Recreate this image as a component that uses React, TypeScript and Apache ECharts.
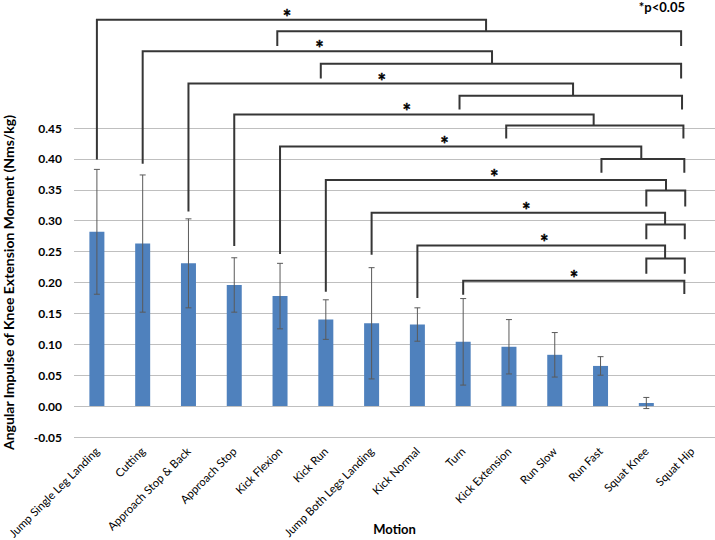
import React, { useEffect, useRef } from "react";
import * as echarts from "echarts";

const categories = [
  "Jump Single Leg Landing",
  "Cutting",
  "Approach Stop & Back",
  "Approach Stop",
  "Kick Flexion",
  "Kick Run",
  "Jump Both Legs Landing",
  "Kick Normal",
  "Turn",
  "Kick Extension",
  "Run Slow",
  "Run Fast",
  "Squat Knee",
  "Squat Hip",
];
const means = [0.282, 0.263, 0.231, 0.196, 0.178, 0.14, 0.134, 0.132, 0.104, 0.096, 0.083, 0.065, 0.005, 0];
const sds = [0.101, 0.111, 0.072, 0.044, 0.053, 0.032, 0.09, 0.027, 0.07, 0.044, 0.036, 0.015, 0.009, 0];

// significance brackets (in category-index / value units)
const bracketFrom = [0, 1, 2, 3, 4, 5, 6, 7, 8];
const bracketLegBottom = [0.399, 0.392, 0.315, 0.259, 0.246, 0.185, 0.245, 0.175, 0.18];
const bracketTop = [0.625, 0.574, 0.522, 0.472, 0.42, 0.366, 0.313, 0.26, 0.203];
const bracketTip = [8.5, 8.63, 10.4, 10.85, 11.89, 12.43, 12.41, 12.41, 12.83];
const groupStart: (number | null)[] = [3.94, 4.89, 7.92, 8.94, 11.02, 12.0, 12.0, 12.0, null];
const groupEnd = [12.76, 12.76, 12.78, 12.81, 12.83, 12.85, 12.84, 12.84, 12.83];
const groupLevel: (number | null)[] = [0.6065, 0.554, 0.502, 0.454, 0.4, 0.349, 0.294, 0.239, null];
const groupLegBottom = [0.5825, 0.53, 0.48, 0.433, 0.3775, 0.323, 0.27, 0.214, 0.1815];
const starX = [4.15, 4.86, 6.22, 6.77, 7.59, 8.68, 9.38, 9.77, 10.42];

const FONT = "Lato, 'Open Sans', sans-serif";

export default function App() {
  const ref = useRef<HTMLDivElement>(null);
  useEffect(() => {
    if (!ref.current) return;
    const chart = echarts.init(ref.current, undefined, { renderer: "svg" });
    const errData = means
      .map((m, i) => [i, m - sds[i], m + sds[i], sds[i]])
      .filter((d) => d[3] > 0);
    const lineStyle = { stroke: "#363636", lineWidth: 2, fill: "none" };
    chart.setOption({
      animation: false,
      backgroundColor: "#ffffff",
      title: {
        text: "*p<0.05",
        right: 30,
        top: 0,
        padding: 0,
        textStyle: { fontFamily: FONT, fontWeight: "bold", fontSize: 13, color: "#000" },
      },
      grid: { left: 74, right: 0, top: 128, bottom: 103, containLabel: false, outerBoundsMode: "none" },
      xAxis: [
        {
          type: "category",
          data: categories,
          axisLine: { show: false },
          axisTick: { show: false },
          axisLabel: {
            rotate: 45,
            interval: 0,
            margin: 12,
            fontSize: 11.4,
            fontFamily: FONT,
            color: "#000",
          },
          name: "Motion",
          nameLocation: "middle",
          nameGap: 85,
          nameMoveOverlap: false,
          nameTextStyle: { fontFamily: FONT, fontWeight: "bold", fontSize: 13, lineHeight: 14, color: "#000" },
        },
        { type: "value", min: -0.5, max: 13.5, show: false },
      ],
      yAxis: {
        type: "value",
        min: -0.05,
        max: 0.45,
        interval: 0.05,
        axisLine: { show: false },
        axisTick: { show: false },
        splitLine: { lineStyle: { color: "#bfbfbf", width: 1 } },
        axisLabel: {
          formatter: (v: number) => v.toFixed(2),
          fontFamily: FONT,
          fontWeight: "bold",
          fontSize: 12,
          color: "#000",
          margin: 12,
        },
        name: "Angular Impulse of Knee Extension Moment (Nms/kg)",
        nameLocation: "middle",
        nameRotate: 90,
        nameGap: 59,
        nameMoveOverlap: false,
        nameTextStyle: { fontFamily: FONT, fontWeight: "bold", fontSize: 14, color: "#000" },
      },
      series: [
        {
          type: "bar",
          data: means,
          barWidth: 15,
          itemStyle: { color: "#4F81BD" },
        },
        {
          type: "custom",
          xAxisIndex: 0,
          yAxisIndex: 0,
          clip: false,
          z: 5,
          encode: { x: 0, y: [1, 2] },
          data: errData,
          renderItem: (params: any, api: any) => {
            const i = api.value(0);
            const lo = api.coord([i, api.value(1)]);
            const hi = api.coord([i, api.value(2)]);
            const cap = 3;
            const st = { stroke: "#5a5a5a", lineWidth: 1 };
            return {
              type: "group",
              children: [
                { type: "line", shape: { x1: lo[0], y1: lo[1], x2: hi[0], y2: hi[1] }, style: st },
                { type: "line", shape: { x1: hi[0] - cap, y1: hi[1], x2: hi[0] + cap, y2: hi[1] }, style: st },
                { type: "line", shape: { x1: lo[0] - cap, y1: lo[1], x2: lo[0] + cap, y2: lo[1] }, style: st },
              ],
            };
          },
        },
        {
          type: "custom",
          xAxisIndex: 1,
          yAxisIndex: 0,
          clip: false,
          z: 6,
          encode: { x: 0, y: 1 },
          data: bracketFrom.map((f, i) => [f, bracketTop[i]]),
          renderItem: (params: any, api: any) => {
            const k = params.dataIndex;
            const c = (x: number, y: number) => api.coord([x, y]);
            const f = bracketFrom[k];
            const gl = groupLevel[k];
            const tipEnd = gl == null ? groupLegBottom[k] : gl;
            const children: any[] = [
              {
                type: "polyline",
                shape: {
                  points: [
                    c(f, bracketLegBottom[k]),
                    c(f, bracketTop[k]),
                    c(bracketTip[k], bracketTop[k]),
                    c(bracketTip[k], tipEnd),
                  ],
                },
                style: lineStyle,
              },
            ];
            const gs = groupStart[k];
            if (gl != null && gs != null) {
              children.push({
                type: "polyline",
                shape: {
                  points: [
                    c(gs, groupLegBottom[k]),
                    c(gs, gl),
                    c(groupEnd[k], gl),
                    c(groupEnd[k], groupLegBottom[k]),
                  ],
                },
                style: lineStyle,
              });
            }
            const sp = c(starX[k], bracketTop[k]);
            children.push({
              type: "text",
              x: sp[0],
              y: sp[1] - 3,
              style: {
                text: "*",
                font: "bold 20px " + FONT,
                fill: "#000000",
                stroke: "#000000",
                lineWidth: 0.4,
                align: "center",
                verticalAlign: "middle",
              },
            });
            return { type: "group", children };
          },
        },
      ],
    });
    return () => chart.dispose();
  }, []);
  return (
    <div
      ref={ref}
      style={{ position: "fixed", left: 0, top: 0, width: 715, height: 540, background: "#fff" }}
    />
  );
}
